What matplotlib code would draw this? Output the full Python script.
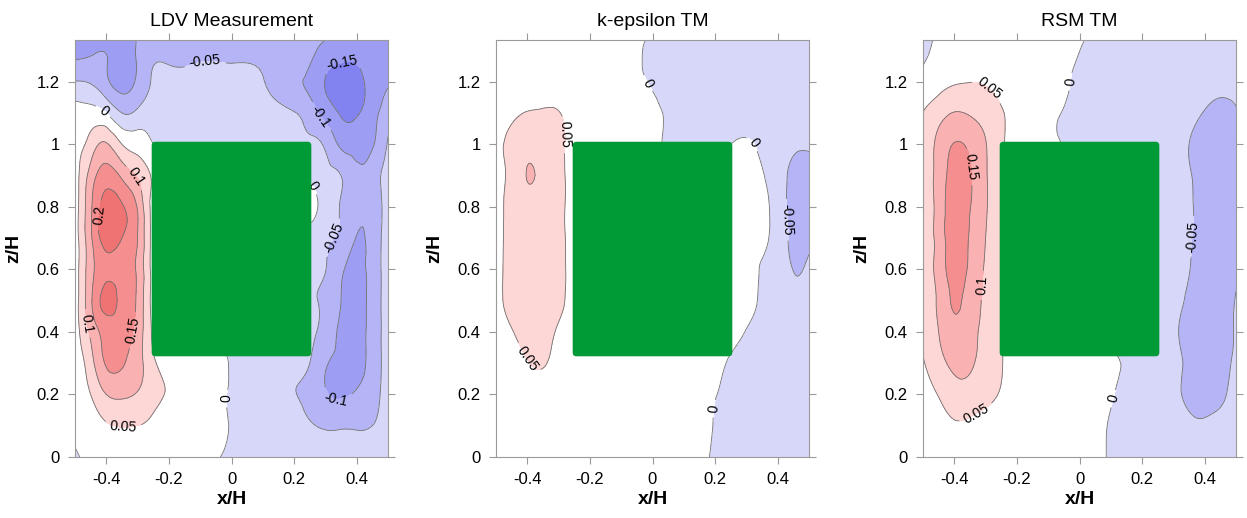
import matplotlib

matplotlib.use("Agg")
import matplotlib.pyplot as plt
import numpy as np
from matplotlib.patches import FancyBboxPatch
from matplotlib.tri import Triangulation, UniformTriRefiner

# sample grid (x/H columns, z/H rows listed from the top of the domain down)
X_COLS = [-0.5, -0.45, -0.4, -0.35, -0.3, -0.25, -0.2, -0.1, 0.0, 0.1, 0.2, 0.25, 0.3, 0.35, 0.4, 0.45, 0.5]
Z_ROWS = [1.34, 1.27, 1.2, 1.1, 1.0, 0.9, 0.8, 0.7, 0.6, 0.5, 0.4, 0.3, 0.2, 0.1, 0.0]

LDV = [
    [-0.12, -0.12, -0.12, -0.12, -0.098, -0.095, -0.085, -0.075, -0.07, -0.075, -0.085, -0.09, -0.097, -0.115, -0.125, -0.12, -0.11],
    [-0.1, -0.095, -0.098, -0.12, -0.095, -0.055, -0.055, -0.052, -0.052, -0.058, -0.08, -0.095, -0.13, -0.145, -0.145, -0.12, -0.11],
    [-0.048, -0.055, -0.09, -0.12, -0.09, -0.045, -0.04, -0.04, -0.042, -0.048, -0.09, -0.11, -0.152, -0.17, -0.165, -0.13, -0.105],
    [0.02, 0.02, 0.0, -0.05, -0.04, -0.03, -0.035, -0.035, -0.035, -0.04, -0.048, -0.075, -0.12, -0.155, -0.155, -0.12, -0.07],
    [0.03, 0.07, 0.105, 0.05, 0.03, 0.0, -0.02, -0.025, -0.03, -0.03, -0.035, -0.04, -0.058, -0.11, -0.12, -0.105, -0.045],
    [0.025, 0.12, 0.175, 0.14, 0.095, 0.04, 0.0, -0.02, -0.03, -0.03, -0.02, -0.005, -0.03, -0.05, -0.09, -0.075, -0.028],
    [0.025, 0.14, 0.22, 0.205, 0.145, 0.03, 0.0, -0.02, -0.03, -0.03, -0.02, 0.002, -0.015, -0.055, -0.09, -0.08, -0.028],
    [0.025, 0.14, 0.22, 0.2, 0.15, 0.03, 0.0, -0.02, -0.03, -0.03, -0.03, -0.01, -0.04, -0.06, -0.102, -0.08, -0.028],
    [0.025, 0.13, 0.19, 0.18, 0.14, 0.03, 0.0, -0.02, -0.03, -0.035, -0.04, -0.045, -0.049, -0.09, -0.115, -0.08, -0.028],
    [0.025, 0.14, 0.215, 0.19, 0.14, 0.03, 0.0, -0.02, -0.03, -0.035, -0.04, -0.045, -0.06, -0.1, -0.12, -0.08, -0.028],
    [0.025, 0.11, 0.17, 0.17, 0.13, 0.04, 0.01, 0.0, -0.01, -0.03, -0.04, -0.042, -0.07, -0.11, -0.12, -0.08, -0.028],
    [0.02, 0.08, 0.155, 0.155, 0.12, 0.06, 0.03, 0.012, -0.001, -0.02, -0.04, -0.05, -0.095, -0.11, -0.115, -0.08, -0.028],
    [0.012, 0.05, 0.1, 0.11, 0.095, 0.065, 0.045, 0.012, -0.001, -0.015, -0.048, -0.065, -0.095, -0.105, -0.095, -0.07, -0.028],
    [0.008, 0.025, 0.045, 0.052, 0.05, 0.04, 0.025, 0.012, -0.001, -0.01, -0.03, -0.045, -0.055, -0.055, -0.055, -0.05, -0.028],
    [-0.005, 0.01, 0.015, 0.02, 0.02, 0.015, 0.01, 0.005, -0.003, -0.01, -0.02, -0.025, -0.03, -0.035, -0.035, -0.03, -0.02],
]

KEPS = [
    [0.015, 0.015, 0.015, 0.015, 0.015, 0.015, 0.012, 0.006, -0.002, -0.015, -0.02, -0.02, -0.02, -0.02, -0.02, -0.02, -0.02],
    [0.015, 0.015, 0.015, 0.015, 0.015, 0.015, 0.012, 0.007, -0.004, -0.015, -0.02, -0.02, -0.02, -0.02, -0.02, -0.02, -0.02],
    [0.015, 0.02, 0.02, 0.025, 0.02, 0.015, 0.012, 0.008, -0.002, -0.015, -0.02, -0.02, -0.02, -0.02, -0.02, -0.02, -0.02],
    [0.025, 0.04, 0.052, 0.055, 0.052, 0.03, 0.02, 0.01, 0.003, -0.009, -0.02, -0.02, -0.02, -0.02, -0.02, -0.02, -0.02],
    [0.035, 0.065, 0.085, 0.08, 0.06, 0.035, 0.015, 0.01, 0.003, -0.005, -0.005, 0.0, 0.004, -0.006, -0.02, -0.04, -0.045],
    [0.035, 0.065, 0.1015, 0.085, 0.06, 0.035, 0.015, 0.01, 0.005, 0.0, 0.003, 0.008, 0.008, 0.002, -0.025, -0.06, -0.055],
    [0.035, 0.065, 0.085, 0.08, 0.06, 0.035, 0.015, 0.01, 0.005, 0.0, 0.005, 0.01, 0.012, 0.008, -0.02, -0.065, -0.055],
    [0.035, 0.065, 0.08, 0.075, 0.06, 0.035, 0.015, 0.01, 0.005, 0.0, 0.005, 0.01, 0.012, 0.007, -0.02, -0.06, -0.055],
    [0.035, 0.065, 0.075, 0.07, 0.06, 0.035, 0.015, 0.01, 0.005, 0.0, 0.005, 0.01, 0.01, -0.002, -0.02, -0.051, -0.04],
    [0.035, 0.065, 0.075, 0.07, 0.058, 0.035, 0.015, 0.01, 0.005, 0.0, 0.005, 0.008, 0.007, -0.005, -0.025, -0.04, -0.035],
    [0.035, 0.048, 0.065, 0.065, 0.045, 0.03, 0.015, 0.01, 0.005, 0.0, 0.005, 0.006, -0.001, -0.01, -0.02, -0.03, -0.03],
    [0.03, 0.04, 0.048, 0.053, 0.035, 0.02, 0.012, 0.008, 0.005, 0.004, 0.005, -0.003, -0.01, -0.015, -0.02, -0.025, -0.025],
    [0.025, 0.03, 0.035, 0.035, 0.025, 0.015, 0.01, 0.007, 0.005, 0.003, 0.001, -0.008, -0.012, -0.015, -0.018, -0.02, -0.02],
    [0.02, 0.025, 0.03, 0.03, 0.02, 0.015, 0.01, 0.007, 0.006, 0.006, -0.001, -0.008, -0.012, -0.015, -0.018, -0.02, -0.02],
    [0.015, 0.02, 0.025, 0.025, 0.02, 0.015, 0.01, 0.007, 0.006, 0.005, -0.002, -0.008, -0.012, -0.015, -0.018, -0.02, -0.02],
]

RSM = [
    [-0.01, 0.005, 0.015, 0.02, 0.02, 0.015, 0.012, 0.008, 0.002, -0.01, -0.02, -0.022, -0.025, -0.028, -0.03, -0.03, -0.03],
    [-0.002, 0.01, 0.025, 0.03, 0.025, 0.02, 0.015, 0.008, -0.001, -0.012, -0.02, -0.022, -0.025, -0.03, -0.03, -0.03, -0.03],
    [0.01, 0.03, 0.045, 0.049, 0.045, 0.03, 0.02, 0.007, -0.003, -0.015, -0.022, -0.025, -0.028, -0.032, -0.035, -0.04, -0.038],
    [0.051, 0.08, 0.102, 0.095, 0.08, 0.055, 0.03, 0.004, -0.005, -0.02, -0.03, -0.032, -0.035, -0.04, -0.052, -0.058, -0.052],
    [0.06, 0.115, 0.152, 0.14, 0.102, 0.06, 0.02, 0.004, -0.01, -0.02, -0.03, -0.035, -0.04, -0.05, -0.065, -0.065, -0.052],
    [0.065, 0.12, 0.17, 0.155, 0.105, 0.06, 0.03, 0.01, -0.008, -0.02, -0.03, -0.035, -0.04, -0.047, -0.065, -0.068, -0.055],
    [0.065, 0.12, 0.175, 0.152, 0.105, 0.06, 0.03, 0.01, -0.008, -0.02, -0.03, -0.035, -0.04, -0.045, -0.065, -0.068, -0.055],
    [0.065, 0.12, 0.175, 0.145, 0.1, 0.06, 0.03, 0.01, -0.008, -0.02, -0.03, -0.035, -0.04, -0.047, -0.065, -0.068, -0.055],
    [0.065, 0.12, 0.17, 0.14, 0.095, 0.06, 0.03, 0.01, -0.008, -0.02, -0.03, -0.035, -0.04, -0.049, -0.065, -0.068, -0.055],
    [0.06, 0.11, 0.155, 0.13, 0.09, 0.058, 0.03, 0.01, -0.008, -0.02, -0.03, -0.035, -0.04, -0.055, -0.065, -0.065, -0.048],
    [0.055, 0.1, 0.14, 0.12, 0.085, 0.055, 0.025, 0.01, 0.005, -0.005, -0.02, -0.03, -0.045, -0.058, -0.065, -0.062, -0.047],
    [0.047, 0.08, 0.115, 0.11, 0.075, 0.052, 0.03, 0.012, 0.008, 0.002, -0.008, -0.02, -0.04, -0.055, -0.06, -0.058, -0.045],
    [0.035, 0.052, 0.075, 0.075, 0.06, 0.047, 0.03, 0.012, 0.008, 0.001, -0.01, -0.02, -0.04, -0.056, -0.06, -0.055, -0.04],
    [0.025, 0.035, 0.045, 0.042, 0.035, 0.03, 0.02, 0.012, 0.006, -0.001, -0.012, -0.018, -0.028, -0.042, -0.045, -0.04, -0.035],
    [0.015, 0.02, 0.025, 0.025, 0.02, 0.02, 0.015, 0.01, 0.007, -0.0015, -0.012, -0.015, -0.02, -0.025, -0.028, -0.025, -0.02],
]

TITLES = ["LDV Measurement", "k-epsilon TM", "RSM TM"]
FIELDS = [LDV, KEPS, RSM]

FILL_LEVELS = [-0.3, -0.15, -0.1, -0.05, 0.0, 0.05, 0.1, 0.15, 0.2, 0.3]
LINE_LEVELS = [-0.15, -0.1, -0.05, 0.0, 0.05, 0.1, 0.15, 0.2]
FILL_COLORS = [
    "#8282f0", "#9d9df3", "#b4b4f6", "#d7d7fa", "#ffffff",
    "#fdd6d6", "#f9b1b1", "#f58f8f", "#f07373",
]

# where the inline contour labels sit in each panel
LABEL_SPOTS = [
    [(-0.085, 1.264), (0.367, 1.216), (-0.415, 1.099), (0.27, 1.077), (-0.31, 0.89),
     (0.266, 0.87), (-0.42, 0.773), (0.335, 0.693), (-0.46, 0.427), (-0.314, 0.405),
     (-0.005, 0.187), (0.335, 0.192), (-0.346, 0.107)],
    [(-0.024, 1.19), (-0.285, 1.03), (0.322, 1.003), (0.413, 0.757), (-0.397, 0.315),
     (0.189, 0.155)],
    [(-0.293, 1.173), (-0.027, 1.2), (-0.346, 0.928), (0.362, 0.704), (-0.314, 0.549),
     (0.106, 0.187), (-0.33, 0.139)],
]

plt.rcParams["font.family"] = ["Liberation Sans", "DejaVu Sans"]
plt.rcParams["axes.unicode_minus"] = False
plt.rcParams["contour.negative_linestyle"] = "solid"

fig = plt.figure(figsize=(12.47, 5.18), dpi=100)
lefts = [75, 496, 923]
ax_w, ax_h = 313, 417
bottom = 61

x_grid, z_grid = np.meshgrid(X_COLS, Z_ROWS)
tri = Triangulation(x_grid.ravel(), z_grid.ravel())
refiner = UniformTriRefiner(tri)
gray = "#9a9a9a"

for left, title, field, spots in zip(lefts, TITLES, FIELDS, LABEL_SPOTS):
    ax = fig.add_axes([left / 1247, bottom / 518, ax_w / 1247, ax_h / 518])
    vals = np.array(field).ravel()
    # smooth contouring on a subdivided mesh
    tri_fine, vals_fine = refiner.refine_field(vals, subdiv=3)

    ax.tricontourf(tri_fine, vals_fine, levels=FILL_LEVELS, colors=FILL_COLORS)
    cs = ax.tricontour(tri_fine, vals_fine, levels=LINE_LEVELS, colors="#707070",
                       linewidths=0.6)
    ax.clabel(cs, fmt="%g", fontsize=10, inline=True, manual=spots, colors="black")

    # building block
    block = FancyBboxPatch((-0.255, 0.322), 0.51, 0.686,
                           boxstyle="round,pad=0,rounding_size=0.012",
                           facecolor="#009a36", edgecolor="none", zorder=5)
    ax.add_patch(block)

    ax.set_xlim(-0.5, 0.5)
    ax.set_ylim(0, 4 / 3)
    ax.set_xticks([-0.4, -0.2, 0, 0.2, 0.4])
    ax.set_xticklabels(["-0.4", "-0.2", "0", "0.2", "0.4"])
    ax.set_yticks([0, 0.2, 0.4, 0.6, 0.8, 1.0, 1.2])
    ax.set_yticklabels(["0", "0.2", "0.4", "0.6", "0.8", "1", "1.2"])
    ax.tick_params(direction="out", length=5, width=0.8, color=gray, labelsize=12,
                   top=True, right=True, pad=6)
    for sp in ax.spines.values():
        sp.set_color(gray)
        sp.set_linewidth(0.8)

    ax.set_title(title, fontsize=14, pad=10)
    ax.set_xlabel("x/H", fontsize=14, fontweight="bold", labelpad=3)
    ax.set_ylabel("z/H", fontsize=14, fontweight="bold", labelpad=10)

fig.savefig("out.png", dpi=100)
